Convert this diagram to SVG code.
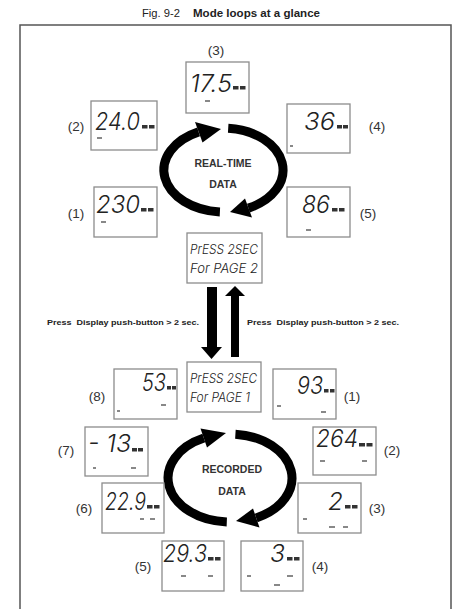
<svg xmlns="http://www.w3.org/2000/svg" width="455" height="609" viewBox="0 0 455 609">
<style>
.title{font-family:"Liberation Sans",Arial,sans-serif;font-size:10.5px;fill:#222}
.num{font-family:"Liberation Sans",Arial,sans-serif;font-size:13.5px;fill:#333;text-anchor:middle}
.lbl{font-family:"Liberation Sans",Arial,sans-serif;font-size:10.5px;font-weight:bold;fill:#333;text-anchor:middle}
.press{font-family:"Liberation Sans",Arial,sans-serif;font-size:8px;font-weight:bold;fill:#222}
.box{fill:#fff;stroke:#8c8c8c;stroke-width:1.3}
.lcd{font-family:Inter,"DejaVu Sans",sans-serif;font-weight:300;font-style:italic;fill:#222;font-size:24px}
.lcds{font-family:Inter,"DejaVu Sans",sans-serif;font-weight:300;font-style:italic;fill:#222;font-size:13px}
.blk{fill:#333}
.tiny{fill:#888}
.arc{fill:none;stroke:#000;stroke-width:9}
.head{fill:#000}
</style>
<rect width="455" height="609" fill="#fff"/>
<text class="title" x="142" y="17" textLength="38" lengthAdjust="spacingAndGlyphs">Fig. 9-2</text>
<text class="title" x="193" y="17" font-weight="bold" textLength="127" lengthAdjust="spacingAndGlyphs">Mode loops at a glance</text>
<path d="M20 612 V25 H451 V612" fill="none" stroke="#555" stroke-width="1.5"/>

<g id="connectors">
  <path class="arc" d="M219.9 211.9 A60 42 0 0 1 198.6 131.9"/>
  <polygon class="head" points="195,122 202.5,142.5 221,129"/>
  <path class="arc" d="M228.2 128.2 A60 42 0 0 1 248.4 208.1"/>
  <polygon class="head" points="245,198.5 252,217.5 230,212"/>
  <path class="arc" d="M226.8 521.9 A62 44 0 0 1 203.8 438.1"/>
  <polygon class="head" points="200.5,428.5 207,447.5 226,433"/>
  <path class="arc" d="M235.4 434.2 A62 44 0 0 1 256.2 517.9"/>
  <polygon class="head" points="253,508.5 259.5,527.5 236,521"/>
  <rect class="head" x="207" y="287" width="10" height="61"/>
  <polygon class="head" points="201,347 222,347 211.5,359"/>
  <rect class="head" x="231" y="295" width="8" height="62"/>
  <polygon class="head" points="225,296 245,296 235,286"/>
  <text class="press" x="47" y="325" textLength="152" lengthAdjust="spacingAndGlyphs" xml:space="preserve">Press  Display push-button &gt; 2 sec.</text>
  <text class="press" x="247" y="325" textLength="152" lengthAdjust="spacingAndGlyphs" xml:space="preserve">Press  Display push-button &gt; 2 sec.</text>
</g>

<g id="rt-loop-label">
  <text class="lbl" x="223" y="167">REAL-TIME</text>
  <text class="lbl" x="223" y="188">DATA</text>
</g>
<g id="rec-loop-label">
  <text class="lbl" x="232" y="473">RECORDED</text>
  <text class="lbl" x="232" y="495">DATA</text>
</g>

<g id="rt3">
  <text class="num" x="216" y="55">(3)</text>
  <rect class="box" x="186" y="62" width="63" height="51"/>
  <text class="lcd" x="190" y="92" textLength="42" lengthAdjust="spacingAndGlyphs">17.5</text>
  <rect class="blk" x="233" y="86" width="5.5" height="3.5"/><rect class="blk" x="240" y="86" width="5.5" height="3.5"/>
  <rect class="tiny" x="205" y="100" width="5" height="2"/>
</g>
<g id="rt2">
  <text class="num" x="76" y="131">(2)</text>
  <rect class="box" x="91" y="101" width="66" height="49"/>
  <text class="lcd" x="95" y="130" textLength="45" lengthAdjust="spacingAndGlyphs">24.0</text>
  <rect class="blk" x="142" y="125" width="5.5" height="3.5"/><rect class="blk" x="149" y="125" width="5.5" height="3.5"/>
  <rect class="tiny" x="97" y="137" width="5" height="2"/>
</g>
<g id="rt4">
  <text class="num" x="377" y="131">(4)</text>
  <rect class="box" x="287" y="104" width="63" height="49"/>
  <text class="lcd" x="304" y="130" textLength="31" lengthAdjust="spacingAndGlyphs">36</text>
  <rect class="blk" x="337" y="125" width="5" height="3.5"/><rect class="blk" x="343" y="125" width="5" height="3.5"/>
  <rect class="tiny" x="290" y="145" width="3" height="2"/>
</g>
<g id="rt1">
  <text class="num" x="76" y="218">(1)</text>
  <rect class="box" x="94" y="187" width="63" height="50"/>
  <text class="lcd" x="96" y="213" textLength="44" lengthAdjust="spacingAndGlyphs">230</text>
  <rect class="blk" x="141" y="208" width="5.5" height="3.5"/><rect class="blk" x="148" y="208" width="5.5" height="3.5"/>
  <rect class="tiny" x="101" y="221" width="5" height="2"/>
</g>
<g id="rt5">
  <text class="num" x="368" y="218">(5)</text>
  <rect class="box" x="287" y="187" width="63" height="50"/>
  <text class="lcd" x="302" y="213" textLength="28" lengthAdjust="spacingAndGlyphs">86</text>
  <rect class="blk" x="332" y="208" width="5.5" height="3.5"/><rect class="blk" x="339" y="208" width="5.5" height="3.5"/>
  <rect class="tiny" x="306" y="229" width="5" height="2"/>
</g>
<g id="page2">
  <rect class="box" x="187" y="233" width="75" height="50"/>
  <text class="lcds" x="190" y="254" textLength="68" lengthAdjust="spacingAndGlyphs">PrESS 2SEC</text>
  <text class="lcds" x="190" y="273" textLength="68" lengthAdjust="spacingAndGlyphs">For PAGE 2</text>
</g>

<g id="page1">
  <rect class="box" x="187" y="362" width="74" height="50"/>
  <text class="lcds" x="190" y="383" textLength="67" lengthAdjust="spacingAndGlyphs">PrESS 2SEC</text>
  <text class="lcds" x="190" y="402" textLength="60" lengthAdjust="spacingAndGlyphs">For PAGE 1</text>
</g>
<g id="rec8">
  <text class="num" x="97" y="401">(8)</text>
  <rect class="box" x="114" y="369" width="63" height="50"/>
  <text class="lcd" x="142" y="391" font-size="21" textLength="24" lengthAdjust="spacingAndGlyphs">53</text>
  <rect class="blk" x="167" y="386" width="4" height="3.5"/><rect class="blk" x="172" y="386" width="4" height="3.5"/>
  <rect class="tiny" x="117" y="410" width="3" height="2"/><rect class="tiny" x="161" y="404" width="5" height="2"/>
</g>
<g id="rec1">
  <text class="num" x="352" y="401">(1)</text>
  <rect class="box" x="273" y="369" width="63" height="50"/>
  <text class="lcd" x="297" y="394" font-size="21" textLength="26" lengthAdjust="spacingAndGlyphs">93</text>
  <rect class="blk" x="324" y="389" width="4.5" height="3.5"/><rect class="blk" x="330" y="389" width="4.5" height="3.5"/>
  <rect class="tiny" x="277" y="405" width="4" height="2"/><rect class="tiny" x="321" y="411" width="5" height="2"/>
</g>
<g id="rec7">
  <text class="num" x="66" y="455">(7)</text>
  <rect class="box" x="85" y="427" width="63" height="49"/>
  <text class="lcd" x="88" y="452" font-size="21" textLength="43" lengthAdjust="spacingAndGlyphs">- 13</text>
  <rect class="blk" x="132" y="448" width="5" height="3.5"/><rect class="blk" x="138" y="448" width="5" height="3.5"/>
  <rect class="tiny" x="93" y="467" width="3" height="2"/><rect class="tiny" x="131" y="467" width="5" height="2"/>
</g>
<g id="rec2">
  <text class="num" x="392" y="455">(2)</text>
  <rect class="box" x="313" y="427" width="63" height="48"/>
  <text class="lcd" x="316" y="447" font-size="21" textLength="42" lengthAdjust="spacingAndGlyphs">264</text>
  <rect class="blk" x="359" y="443" width="6" height="3.5"/><rect class="blk" x="366.5" y="443" width="6" height="3.5"/>
  <rect class="tiny" x="320" y="460" width="5" height="2"/><rect class="tiny" x="362" y="460" width="5" height="2"/>
</g>
<g id="rec6">
  <text class="num" x="84" y="513">(6)</text>
  <rect class="box" x="102" y="483" width="62" height="50"/>
  <text class="lcd" x="105" y="510" textLength="41" lengthAdjust="spacingAndGlyphs">22.9</text>
  <rect class="blk" x="147" y="505" width="5.5" height="3.5"/><rect class="blk" x="154" y="505" width="5.5" height="3.5"/>
  <rect class="tiny" x="140" y="518" width="4" height="2"/><rect class="tiny" x="150" y="518" width="5" height="2"/>
</g>
<g id="rec3">
  <text class="num" x="377" y="513">(3)</text>
  <rect class="box" x="298" y="483" width="63" height="50"/>
  <text class="lcd" x="328" y="510" textLength="15" lengthAdjust="spacingAndGlyphs">2</text>
  <rect class="blk" x="345" y="505" width="5.5" height="3.5"/><rect class="blk" x="352" y="505" width="5.5" height="3.5"/>
  <rect class="tiny" x="303" y="518" width="4" height="2"/><rect class="tiny" x="329" y="526" width="6" height="2"/><rect class="tiny" x="343" y="526" width="5" height="2"/>
</g>
<g id="rec5">
  <text class="num" x="143" y="571">(5)</text>
  <rect class="box" x="162" y="541" width="62" height="50"/>
  <text class="lcd" x="163" y="562" textLength="44" lengthAdjust="spacingAndGlyphs">29.3</text>
  <rect class="blk" x="208" y="557" width="5.5" height="3.5"/><rect class="blk" x="215" y="557" width="5.5" height="3.5"/>
  <rect class="tiny" x="181" y="575" width="5" height="2"/><rect class="tiny" x="208" y="575" width="5" height="2"/>
</g>
<g id="rec4">
  <text class="num" x="320" y="571">(4)</text>
  <rect class="box" x="241" y="541" width="62" height="50"/>
  <text class="lcd" x="270" y="562" textLength="15" lengthAdjust="spacingAndGlyphs">3</text>
  <rect class="blk" x="287" y="557" width="5.5" height="3.5"/><rect class="blk" x="294" y="557" width="5.5" height="3.5"/>
  <rect class="tiny" x="247" y="575" width="4" height="2"/><rect class="tiny" x="287" y="575" width="6" height="2"/><rect class="tiny" x="274" y="584" width="6" height="2"/>
</g>
</svg>
